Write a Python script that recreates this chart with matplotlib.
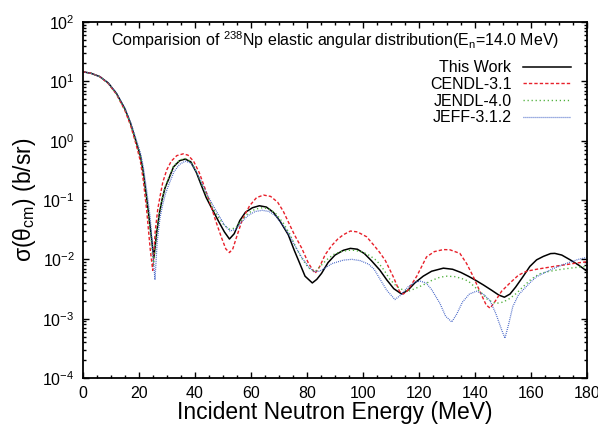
import numpy as np
import matplotlib
matplotlib.use('Agg')
import matplotlib.pyplot as plt
from matplotlib.ticker import MultipleLocator, LogLocator, NullFormatter

plt.rcParams['font.family'] = ['Liberation Sans', 'DejaVu Sans']
plt.rcParams['mathtext.fontset'] = 'custom'
plt.rcParams['mathtext.rm'] = 'Liberation Sans'
plt.rcParams['mathtext.it'] = 'Liberation Sans:italic'
plt.rcParams['mathtext.bf'] = 'Liberation Sans:bold'

#Datos
work_E = [0, 3, 6, 9, 12, 15, 17, 19, 20.5, 21.5, 22.7, 24, 25.3, 26.3, 27.3, 28.2, 29.3, 30.5, 32.3, 34.5,
          36.5, 38.5, 40.5, 42, 44, 46.5, 48.5, 50.5, 52.3, 54, 56, 58, 60.5, 63, 65.5, 68, 70.5, 73.3, 75.5, 77,
          79.3, 81.9, 83.5, 85.2, 87.5, 90, 93, 95.5, 98, 100.5, 103, 106, 108.5, 111, 113.8, 116, 118.5, 121.5,
          124.5, 128.7, 132, 135, 137.6, 140, 143, 146, 148.5, 150.5, 152.5, 154.5, 157, 159.6, 162, 164.4, 167,
          168.5, 171, 174, 177, 180]
work_v = [14.5, 13.6, 12.0, 9.4, 6.2, 3.4, 1.95, 0.95, 0.55, 0.3, 0.11, 0.035, 0.0105, 0.028, 0.06, 0.10, 0.16,
          0.22, 0.36, 0.46, 0.49, 0.44, 0.29, 0.19, 0.11, 0.065, 0.043, 0.029, 0.022, 0.027, 0.045, 0.062, 0.074,
          0.080, 0.076, 0.062, 0.043, 0.026, 0.014, 0.0095, 0.0052, 0.0040, 0.0046, 0.0058, 0.0088, 0.0118, 0.0142,
          0.0153, 0.0148, 0.0125, 0.0095, 0.0066, 0.0045, 0.0032, 0.0026, 0.0030, 0.0040, 0.0052, 0.0063, 0.0071,
          0.0068, 0.0060, 0.0052, 0.0045, 0.0037, 0.0030, 0.0025, 0.0023, 0.0026, 0.0034, 0.0050, 0.0076, 0.0098,
          0.0112, 0.0125, 0.0126, 0.0118, 0.0098, 0.0080, 0.0063]

cendl_E = [0, 3, 6, 9, 12, 15, 17, 19, 20.5, 21.5, 22.7, 24, 24.9, 25.8, 26.7, 27.5, 28.5, 29.9, 31.5, 33.5,
           35.8, 37.5, 39.5, 41.5, 43.5, 45.5, 47.5, 49.5, 51, 52.3, 53.5, 55, 57, 59.5, 62, 64.5, 67, 69.5, 71.5,
           73.3, 75.5, 78.1, 80.5, 82.9, 84.5, 86.5, 88.8, 91, 93, 95.5, 98, 101.3, 104, 106, 108, 110.8, 113,
           114.4, 116, 119.2, 122.7, 125.5, 128.7, 131, 134.6, 137, 139.4, 142, 144, 145.4, 147, 149.5, 152.5,
           155.5, 158.4, 162, 166, 169, 173, 176.5, 180]
cendl_v = [14.5, 13.6, 12.0, 9.2, 6.0, 3.2, 1.8, 0.85, 0.45, 0.22, 0.07, 0.015, 0.0065, 0.03, 0.07, 0.114, 0.2,
           0.32, 0.45, 0.56, 0.60, 0.57, 0.45, 0.29, 0.16, 0.085, 0.043, 0.023, 0.015, 0.013, 0.015, 0.025, 0.048,
           0.08, 0.11, 0.121, 0.115, 0.092, 0.065, 0.043, 0.026, 0.0155, 0.0086, 0.0058, 0.0075, 0.012, 0.017,
           0.022, 0.026, 0.030, 0.029, 0.024, 0.017, 0.013, 0.0095, 0.0051, 0.0029, 0.0026, 0.0030, 0.0052, 0.011,
           0.0135, 0.0146, 0.0145, 0.0126, 0.0085, 0.0051, 0.0027, 0.0017, 0.0015, 0.0019, 0.0029, 0.0040, 0.0054,
           0.0063, 0.0068, 0.0073, 0.0077, 0.0082, 0.0087, 0.0091]

jendl_E = [0, 3, 6, 9, 12, 15, 17, 19, 20.5, 21.5, 22.7, 24, 25.2, 26.2, 27.3, 28.2, 29.3, 30.5, 32.3, 34.5,
           36.5, 38.5, 40.5, 42.5, 44.5, 46.5, 48.5, 50.5, 52.5, 54.5, 56.5, 59, 61.5, 64, 66.5, 69, 71.5, 73.8,
           76, 78.1, 80.5, 82.9, 84.6, 87, 89.4, 92, 95, 97.1, 100, 102.5, 104.9, 107.5, 109.6, 112, 114, 116.2,
           118.5, 121.5, 124.5, 127.5, 130, 133, 135.5, 137.6, 139.4, 142, 144.5, 147.3, 150, 152.5, 154.9, 157.3,
           160, 163, 166, 170, 175, 180]
jendl_v = [14.5, 13.6, 12.0, 9.3, 6.1, 3.3, 1.9, 0.95, 0.55, 0.3, 0.11, 0.03, 0.008, 0.025, 0.06, 0.10, 0.165,
           0.23, 0.37, 0.47, 0.50, 0.45, 0.30, 0.18, 0.11, 0.072, 0.05, 0.037, 0.032, 0.034, 0.045, 0.060, 0.070,
           0.074, 0.071, 0.058, 0.041, 0.027, 0.016, 0.0105, 0.0072, 0.0062, 0.0075, 0.0098, 0.0120, 0.0135,
           0.0142, 0.0142, 0.0132, 0.0115, 0.0095, 0.0066, 0.0046, 0.0035, 0.0031, 0.0029, 0.0032, 0.0037, 0.0044,
           0.0050, 0.0052, 0.0051, 0.0047, 0.0043, 0.0036, 0.0028, 0.0021, 0.0018, 0.0019, 0.0022, 0.0027, 0.0035,
           0.0046, 0.0057, 0.0062, 0.0067, 0.0072, 0.0076]

jeff_E = [0, 3, 6, 9, 12, 15, 17, 19, 20.5, 21.5, 22.7, 24, 25, 25.7, 26.5, 27.5, 28.5, 29.5, 31, 32.5, 34.5,
          36.5, 38.5, 40.5, 42.5, 44.5, 46.5, 48.5, 50.5, 52.5, 54.5, 56.5, 59, 61.5, 64, 66.5, 69, 71.5, 73.8,
          76, 78, 80.5, 82.5, 84.5, 86.5, 89, 93, 96, 99, 102, 104, 106, 108.5, 111.4, 113.5, 116, 118.5, 120.4,
          122.5, 124.5, 127.5, 129.5, 131.7, 133.5, 135.5, 138, 140.5, 143, 145.4, 147.5, 149.5, 150.7, 152,
          153.5, 155.5, 157.3, 160, 162, 165, 168, 171, 174, 177, 180]
jeff_v = [14.5, 13.6, 12.0, 9.4, 6.3, 3.5, 2.05, 1.05, 0.62, 0.37, 0.15, 0.05, 0.012, 0.0045, 0.02, 0.05, 0.085,
          0.13, 0.2, 0.3, 0.4, 0.45, 0.42, 0.30, 0.19, 0.12, 0.08, 0.055, 0.038, 0.030, 0.032, 0.042, 0.055, 0.064,
          0.067, 0.064, 0.053, 0.037, 0.025, 0.016, 0.011, 0.0075, 0.0062, 0.0063, 0.0072, 0.0085, 0.0097, 0.0100,
          0.0095, 0.0083, 0.0068, 0.0047, 0.0030, 0.0021, 0.0025, 0.0034, 0.0041, 0.0043, 0.0040, 0.0031, 0.0018,
          0.0011, 0.00088, 0.0012, 0.0019, 0.0026, 0.0029, 0.0026, 0.0020, 0.0012, 0.00065, 0.00047, 0.0008,
          0.0016, 0.0025, 0.0031, 0.0042, 0.0051, 0.0060, 0.0070, 0.0080, 0.0090, 0.0100, 0.0108]

#Figura
fig = plt.figure(figsize=(5.98, 4.29), dpi=100)
ax = fig.add_axes([83/598, 1 - 378/429, 504/598, 356/429])

ax.plot(work_E, work_v, color='black', lw=1.1, label='This Work')
ax.plot(cendl_E, cendl_v, color='#e8202a', lw=1.0, dashes=(2.4, 1.5), label='CENDL-3.1')
ax.plot(jendl_E, jendl_v, color='#4fb03c', lw=1.0, dashes=(0.9, 2.0), label='JENDL-4.0')
ax.plot(jeff_E, jeff_v, color='#3a5cc4', lw=0.9, dashes=(0.7, 0.9), label='JEFF-3.1.2')

ax.set_yscale('log')
ax.set_xlim(0, 180)
ax.set_ylim(1e-4, 1e2)
ax.xaxis.set_major_locator(MultipleLocator(20))
ax.xaxis.set_minor_locator(MultipleLocator(5))
ax.yaxis.set_major_locator(LogLocator(base=10, numticks=10))
ax.yaxis.set_minor_locator(LogLocator(base=10, subs=np.arange(2, 10), numticks=20))
ax.yaxis.set_minor_formatter(NullFormatter())
ax.tick_params(which='both', direction='in', top=True, right=True, width=1.0, labelsize=11.5)
ax.tick_params(which='major', length=4.5, pad=6)
ax.tick_params(which='minor', length=2.5)
for s in ax.spines.values():
    s.set_linewidth(1.3)

ax.set_xlabel('Incident Neutron Energy (MeV)', fontsize=16.5, labelpad=0)
ax.set_ylabel('σ(θ$_{\\rm cm}$) (b/sr)', fontsize=16.5, labelpad=3)

ax.text(0.5, 0.95, 'Comparision of $^{238}$Np elastic angular distribution(E$_{\\rm n}$=14.0 MeV)',
        transform=ax.transAxes, ha='center', va='center', fontsize=11.5)

ax.legend(loc='upper right', bbox_to_anchor=(0.98, 0.91), frameon=False, markerfirst=False,
          fontsize=11.5, handlelength=3.0, handletextpad=0.7, labelspacing=0.1, borderaxespad=0)

fig.savefig('out.png', dpi=100)
